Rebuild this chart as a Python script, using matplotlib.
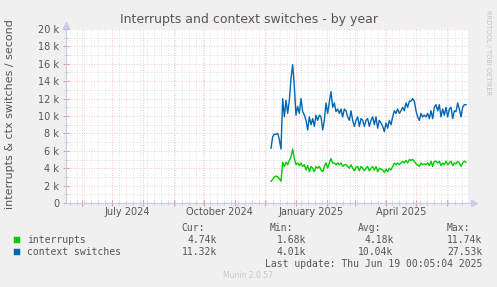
import datetime as dt
import matplotlib
matplotlib.use("Agg")
import matplotlib.pyplot as plt
import matplotlib.dates as mdates
import matplotlib.ticker as mticker
import pandas as pd

# daily-ish averages (40 h spacing), in thousands/s
series_start = "2024-12-07"
interrupts = [2.5, 2.7, 3.0, 3.1, 3.0, 2.8, 2.5,
              4.7, 4.2, 4.7, 4.4, 4.9, 5.3, 6.2, 5.1, 4.4, 4.6, 4.3, 4.6, 4.2, 4.4,
              3.8, 4.3, 3.6, 4.2, 4.0, 3.6, 4.2, 4.0, 4.2, 3.8, 3.6, 4.2, 4.6, 4.0,
              4.6, 5.1, 4.6, 4.6, 4.4, 4.6, 4.4, 4.6, 4.2, 4.4, 4.4, 4.2, 4.0, 4.4,
              4.0, 3.7, 4.1, 4.2, 3.7, 4.2, 4.0, 3.7, 4.0, 4.2, 3.7, 4.0, 4.2, 3.8,
              4.2, 3.6, 4.0, 3.9, 3.8, 3.5, 3.9, 3.6, 4.0, 3.8, 4.2, 4.6, 4.4, 4.6,
              4.4, 4.6, 4.8, 4.6, 4.9, 4.6, 5.0, 4.9, 5.0, 4.8, 4.5, 4.4, 4.2, 4.6,
              4.4, 4.5, 4.4, 4.6, 4.3, 4.8, 4.2, 4.8, 4.8, 4.6, 4.8, 4.3, 4.6, 4.4,
              4.8, 4.4, 4.6, 4.8, 4.3, 4.6, 4.5, 4.8, 4.6, 4.2, 4.6, 4.8, 4.7]
ctx_switches = [6.3, 7.6, 7.9, 7.9, 8.0, 7.3, 6.2,
                12.0, 9.9, 11.8, 10.3, 11.8, 14.3, 15.9, 13.4, 10.1, 11.1, 10.3, 12.0,
                10.5, 10.1, 9.5, 8.4, 9.9, 9.0, 9.7, 8.8, 10.1, 9.5, 10.1, 9.9, 8.4,
                9.5, 11.5, 10.3, 11.6, 12.8, 11.0, 11.5, 10.5, 10.8, 10.3, 10.8, 9.9,
                10.8, 10.6, 9.9, 9.5, 10.6, 9.5, 8.8, 9.5, 9.9, 8.8, 9.7, 9.5, 8.8,
                9.5, 9.7, 8.8, 9.5, 9.9, 9.0, 9.9, 8.6, 9.5, 9.2, 8.8, 8.2, 9.2, 8.6,
                9.5, 9.0, 9.9, 10.6, 10.3, 10.8, 10.3, 10.6, 11.0, 10.6, 11.5, 11.0,
                11.7, 11.7, 12.0, 11.7, 10.6, 9.9, 9.5, 10.3, 9.9, 10.1, 9.9, 10.3,
                9.7, 10.6, 9.7, 11.0, 11.3, 10.6, 11.3, 9.9, 10.8, 10.1, 11.0, 9.9,
                10.8, 11.0, 9.7, 10.6, 10.5, 11.5, 10.8, 9.9, 11.0, 11.3, 11.3]

month_labels = ["July 2024", "October 2024", "January 2025", "April 2025"]
month_label_dates = ["2024-07-16", "2024-10-16", "2025-01-16", "2025-04-16"]

legend_names = ["interrupts", "context switches"]
legend_colors = ["#00cc00", "#0066b3"]
stat_heads = ["Cur:", "Min:", "Avg:", "Max:"]
stats = [["4.74k", "1.68k", "4.18k", "11.74k"],
         ["11.32k", "4.01k", "10.04k", "27.53k"]]

W, H = 497, 287
BG = "#f0f0f0"
TXT = "#555555"
RED = "#f2b4b4"
GRAY = "#dadada"
AXC = "#c8cdee"

fig = plt.figure(figsize=(W / 100, H / 100), dpi=100, facecolor=BG)
ax = fig.add_axes([66 / W, 1 - 203 / H, (468 - 66) / W, (203 - 29) / H])
ax.set_facecolor("white")


def px(x, y):
    return x / W, 1 - y / H


d_int = pd.date_range(series_start, periods=len(interrupts), freq="40h")
d_ctx = pd.date_range(series_start, periods=len(ctx_switches), freq="40h")
ax.plot(d_int, [v * 1000 for v in interrupts], color=legend_colors[0], lw=1.0, zorder=3)
ax.plot(d_ctx, [v * 1000 for v in ctx_switches], color=legend_colors[1], lw=1.0, zorder=3)

ax.set_xlim(dt.date(2024, 5, 16), dt.date(2025, 6, 22))
ax.set_ylim(0, 20000)

# grid: red on months / 2k, gray on weeks / 1k
ax.xaxis.set_major_locator(mdates.MonthLocator())
ax.xaxis.set_minor_locator(mdates.WeekdayLocator(byweekday=mdates.MO))
ax.yaxis.set_major_locator(mticker.MultipleLocator(2000))
ax.yaxis.set_minor_locator(mticker.MultipleLocator(1000))
ax.yaxis.set_major_formatter(mticker.FuncFormatter(
    lambda v, p: "0" if v == 0 else f"{int(v / 1000)} k"))
ax.grid(which="minor", color=GRAY, lw=0.6, linestyle=(0, (1, 2)), zorder=1)
ax.grid(which="major", color=RED, lw=0.6, linestyle=(0, (1, 2)), zorder=1)
ax.tick_params(axis="x", which="both", labelbottom=False, direction="inout")
ax.tick_params(axis="x", which="major", length=4, color="#e89a9a", width=0.8)
ax.tick_params(axis="x", which="minor", length=3, color="#d0d0d0", width=0.8)
ax.tick_params(axis="y", which="major", length=4, color="#e89a9a", width=0.8,
               direction="inout", labelsize=7, labelcolor=TXT, pad=3)
ax.tick_params(axis="y", which="minor", length=3, color="#d0d0d0", width=0.8,
               direction="inout")

for s in ["top", "right"]:
    ax.spines[s].set_visible(False)
for s in ["left", "bottom"]:
    ax.spines[s].set_color(AXC)
    ax.spines[s].set_linewidth(0.9)
    ax.spines[s].set_zorder(4)
ax.plot([1, 1.012], [0, 0], transform=ax.transAxes, color=AXC, lw=0.9, clip_on=False)
ax.plot([0, 0], [1, 1.02], transform=ax.transAxes, color=AXC, lw=0.9, clip_on=False)
ax.plot([1.014], [0], marker=">", ms=4, color=AXC, transform=ax.transAxes, clip_on=False)
ax.plot([0], [1.025], marker="^", ms=4, color=AXC, transform=ax.transAxes, clip_on=False)

for lab, d in zip(month_labels, month_label_dates):
    ax.text(pd.Timestamp(d), -0.05, lab, transform=ax.get_xaxis_transform(),
            ha="center", va="center", fontsize=7, color=TXT)

fig.text(*px(248.5, 19), "Interrupts and context switches - by year",
         ha="center", va="center", fontsize=9, color=TXT)
fig.text(*px(10, 114), "interrupts & ctx switches / second", rotation=90,
         ha="center", va="center", fontsize=8, color=TXT)
fig.text(*px(488, 53), "RRDTOOL / TOBI OETIKER", rotation=-90,
         ha="center", va="center", fontsize=4.8, color="#c4c4c4")

mono = "DejaVu Sans Mono"
head_x = [181, 270, 358, 447]
val_x = [217, 306, 393.5, 482.5]
for h, x in zip(stat_heads, head_x):
    fig.text(*px(x, 228), h, ha="left", va="center", fontsize=7, family=mono, color=TXT)
for i, (name, col) in enumerate(zip(legend_names, legend_colors)):
    y = 239.7 + i * 12
    fig.patches.append(plt.Rectangle(px(14, y + 3), 6 / W, 6 / H, transform=fig.transFigure,
                                     facecolor=col, edgecolor=col, lw=0.3))
    fig.text(*px(27, y), name, ha="left", va="center", fontsize=7, family=mono, color=TXT)
    for v, x in zip(stats[i], val_x):
        fig.text(*px(x, y), v, ha="right", va="center", fontsize=7, family=mono, color=TXT)

fig.text(*px(482.5, 263.7), "Last update: Thu Jun 19 00:05:04 2025", ha="right",
         va="center", fontsize=7, family=mono, color=TXT)
fig.text(*px(248, 276), "Munin 2.0.57", ha="center", va="center", fontsize=5.5,
         color="#c8c8c8")

fig.savefig("out.png", dpi=100, facecolor=BG)
